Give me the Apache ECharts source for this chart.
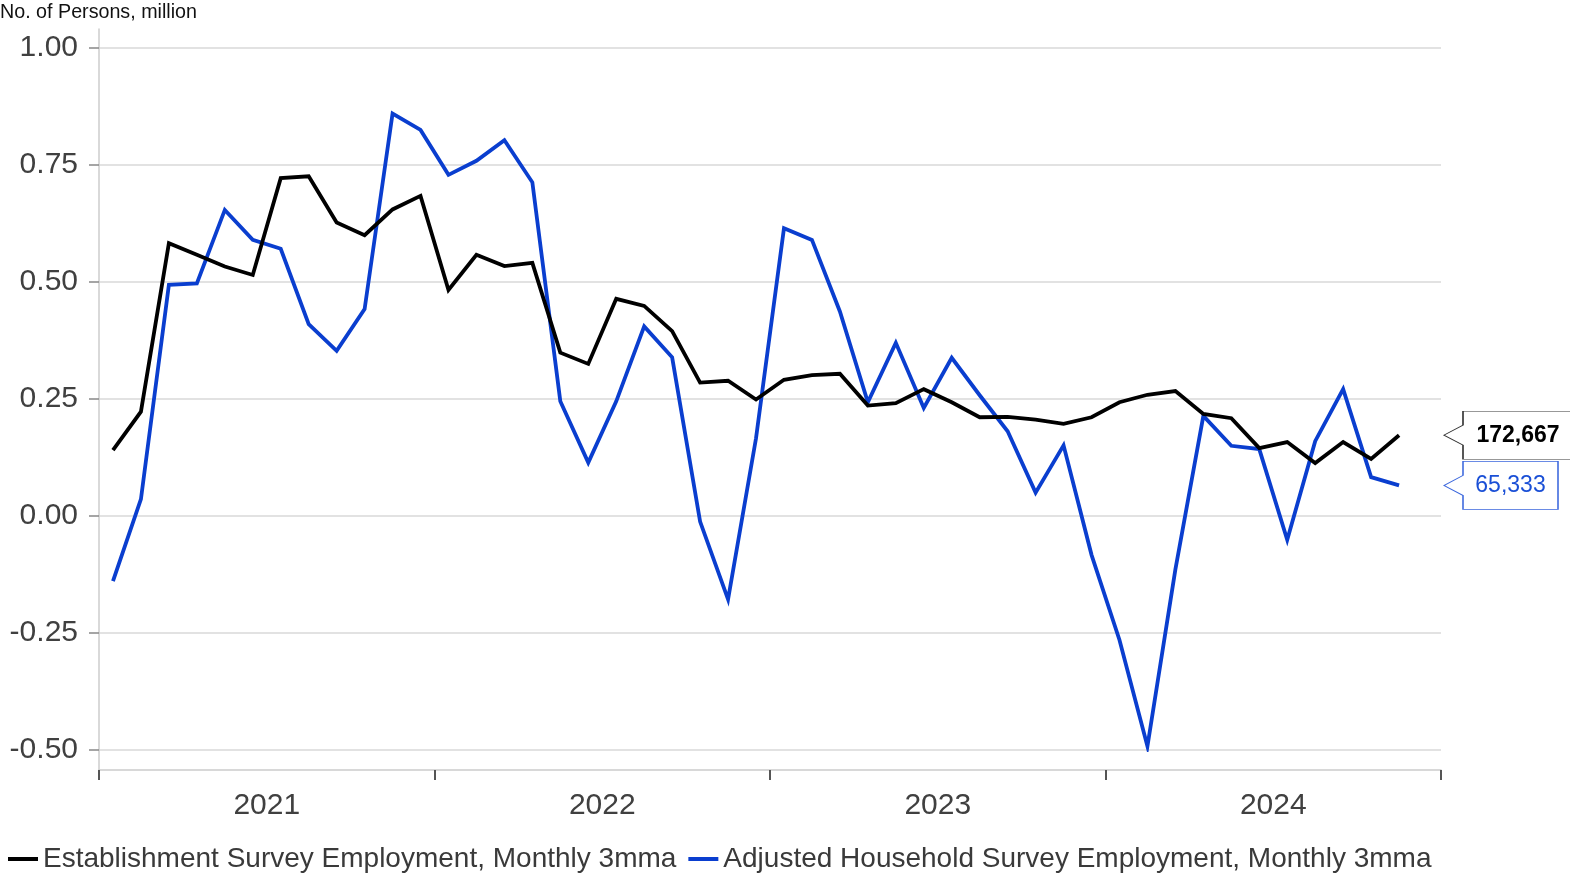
<!DOCTYPE html>
<html>
<head>
<meta charset="utf-8">
<title>Establishment vs Household Survey Employment</title>
<script src="https://cdn.jsdelivr.net/npm/echarts@6/dist/echarts.min.js"></script>
<style>
  html, body { margin: 0; padding: 0; background: #fff; }
  #chart { width: 1570px; height: 874px; }
</style>
</head>
<body>
<div id="chart"></div>
<script>
// Monthly observations, Jan 2021 – Nov 2024 (3-month moving averages, million persons)
const months = [
  '2021-01','2021-02','2021-03','2021-04','2021-05','2021-06','2021-07','2021-08','2021-09','2021-10','2021-11','2021-12',
  '2022-01','2022-02','2022-03','2022-04','2022-05','2022-06','2022-07','2022-08','2022-09','2022-10','2022-11','2022-12',
  '2023-01','2023-02','2023-03','2023-04','2023-05','2023-06','2023-07','2023-08','2023-09','2023-10','2023-11','2023-12',
  '2024-01','2024-02','2024-03','2024-04','2024-05','2024-06','2024-07','2024-08','2024-09','2024-10','2024-11'
];

const establishment = [
  0.141, 0.223, 0.583, 0.558, 0.533, 0.515, 0.722, 0.726, 0.627, 0.600, 0.655, 0.684,
  0.483, 0.558, 0.534, 0.541, 0.349, 0.325, 0.464, 0.449, 0.395, 0.285, 0.289, 0.249,
  0.291, 0.301, 0.304, 0.236, 0.241, 0.271, 0.243, 0.211, 0.212, 0.206, 0.197, 0.211,
  0.243, 0.259, 0.267, 0.218, 0.209, 0.145, 0.158, 0.113, 0.158, 0.122, 0.172667
];

const household = [
  -0.139, 0.036, 0.494, 0.497, 0.654, 0.590, 0.571, 0.410, 0.353, 0.442, 0.860, 0.825,
  0.729, 0.759, 0.803, 0.713, 0.245, 0.114, 0.245, 0.405, 0.339, -0.012, -0.178, 0.166,
  0.615, 0.590, 0.437, 0.243, 0.370, 0.231, 0.338, 0.258, 0.181, 0.050, 0.151, -0.083,
  -0.265, -0.492, -0.114, 0.214, 0.150, 0.143, -0.051, 0.160, 0.271, 0.083, 0.065333
];

const yearLabels = ['2021', '2022', '2023', '2024'];
const firstYear = 2021;
const yMin = -0.5, yMax = 1.0, yStep = 0.25;

const seriesNames = [
  'Establishment Survey Employment, Monthly 3mma',
  'Adjusted Household Survey Employment, Monthly 3mma'
];

const FONT = '"Liberation Sans", Arial, Helvetica, sans-serif';
const BLACK = '#000000';
const BLUE = '#0a3ecf';

// Month -> position on the time axis (each month occupies one unit, point drawn mid-month)
function monthPos(m) {
  const parts = m.split('-').map(Number);
  return (parts[0] - firstYear) * 12 + (parts[1] - 1) + 0.5;
}
const xMax = yearLabels.length * 12;

function toPairs(values) {
  return months.map((m, i) => [monthPos(m), values[i]]);
}

function thousands(v) {
  return Math.round(v * 1e6).toLocaleString('en-US');
}

// Callout box (pointer on the left) placed at the right edge of the plot, at the last value
function endCallout(values, boxWidth, border, textColor, bold) {
  const last = values[values.length - 1];
  const arrow = 19, h = 48, w = arrow + boxWidth;
  const path = 'path://M0,' + (h / 2) + ' L' + arrow + ',' + (h / 2 - 10) + ' L' + arrow + ',0 L' + w + ',0 L' + w + ',' + h +
               ' L' + arrow + ',' + h + ' L' + arrow + ',' + (h / 2 + 10) + ' Z';
  return {
    silent: true,
    symbol: path,
    symbolKeepAspect: false,
    symbolSize: [w, h],
    symbolOffset: [3 + w / 2, 0],
    itemStyle: { color: '#ffffff', borderColor: border, borderWidth: 1 },
    label: {
      show: true,
      position: 'inside',
      offset: [arrow / 2, 0],
      formatter: p => thousands(p.value),
      color: textColor,
      fontFamily: FONT,
      fontSize: 23,
      fontWeight: bold ? 'bold' : 'normal'
    },
    data: [{ coord: [xMax, last], value: last }]
  };
}

const chart = echarts.init(document.getElementById('chart'), null, { renderer: 'canvas' });

chart.setOption({
  animation: false,
  backgroundColor: '#ffffff',
  textStyle: { fontFamily: FONT },
  title: {
    text: 'No. of Persons, million',
    left: 0,
    top: 3,
    padding: 0,
    textStyle: { fontFamily: FONT, fontSize: 19.7, fontWeight: 'normal', color: '#111111' }
  },
  legend: {
    data: seriesNames,
    left: 8,
    top: 845,
    padding: 0,
    icon: 'rect',
    itemWidth: 30,
    itemHeight: 4,
    itemGap: 12,
    textStyle: { fontFamily: FONT, fontSize: 28, color: '#3a3a3a', lineHeight: 28 }
  },
  grid: [
    { left: 99, right: 129, top: 48, bottom: 124, outerBoundsMode: 'none', containLabel: false },
    // frame grid carrying the full-height vertical axis line
    { left: 99, right: 129, top: 29, bottom: 104, outerBoundsMode: 'none', containLabel: false }
  ],
  xAxis: [
    {
      gridIndex: 0,
      type: 'value',
      position: 'bottom',
      min: 0,
      max: xMax,
      interval: 12,
      offset: 20,
      axisLine: { show: true, onZero: false, lineStyle: { color: '#cccccc', width: 1.5 } },
      axisTick: { show: true, length: 10, lineStyle: { color: '#555555', width: 2 } },
      axisLabel: { show: false },
      splitLine: { show: false }
    },
    {
      gridIndex: 0,
      type: 'value',
      position: 'bottom',
      min: 0,
      max: xMax,
      interval: 6,
      offset: 20,
      axisLine: { show: false, onZero: false },
      axisTick: { show: false },
      splitLine: { show: false },
      axisLabel: {
        show: true,
        margin: 21,
        fontFamily: FONT,
        fontSize: 30,
        color: '#404040',
        formatter: v => (v % 12 === 6 ? yearLabels[(v - 6) / 12] : '')
      }
    },
    { gridIndex: 1, type: 'value', min: 0, max: 1, show: false }
  ],
  yAxis: [
    {
      gridIndex: 0,
      type: 'value',
      min: yMin,
      max: yMax,
      interval: yStep,
      axisLine: { show: false },
      axisTick: { show: true, length: 10, lineStyle: { color: '#888888', width: 1.5 } },
      axisLabel: {
        margin: 21,
        fontFamily: FONT,
        fontSize: 30,
        color: '#404040',
        formatter: v => v.toFixed(2)
      },
      splitLine: { show: true, lineStyle: { color: '#d9d9d9', width: 1.5 } }
    },
    {
      gridIndex: 1,
      type: 'value',
      min: 0,
      max: 1,
      axisLine: { show: true, onZero: false, lineStyle: { color: '#cccccc', width: 1.5 } },
      axisTick: { show: false },
      axisLabel: { show: false },
      splitLine: { show: false }
    }
  ],
  series: [
    {
      name: seriesNames[0],
      type: 'line',
      xAxisIndex: 0,
      yAxisIndex: 0,
      data: toPairs(establishment),
      showSymbol: false,
      symbol: 'none',
      color: BLACK,
      lineStyle: { color: BLACK, width: 3.8, join: 'miter' },
      z: 3,
      markPoint: endCallout(establishment, 110, '#333333', BLACK, true)
    },
    {
      name: seriesNames[1],
      type: 'line',
      xAxisIndex: 0,
      yAxisIndex: 0,
      data: toPairs(household),
      showSymbol: false,
      symbol: 'none',
      color: BLUE,
      lineStyle: { color: BLUE, width: 3.8, join: 'miter' },
      z: 2,
      markPoint: endCallout(household, 95, '#3a66dd', '#1a4fd6', false)
    }
  ]
});
</script>
</body>
</html>
